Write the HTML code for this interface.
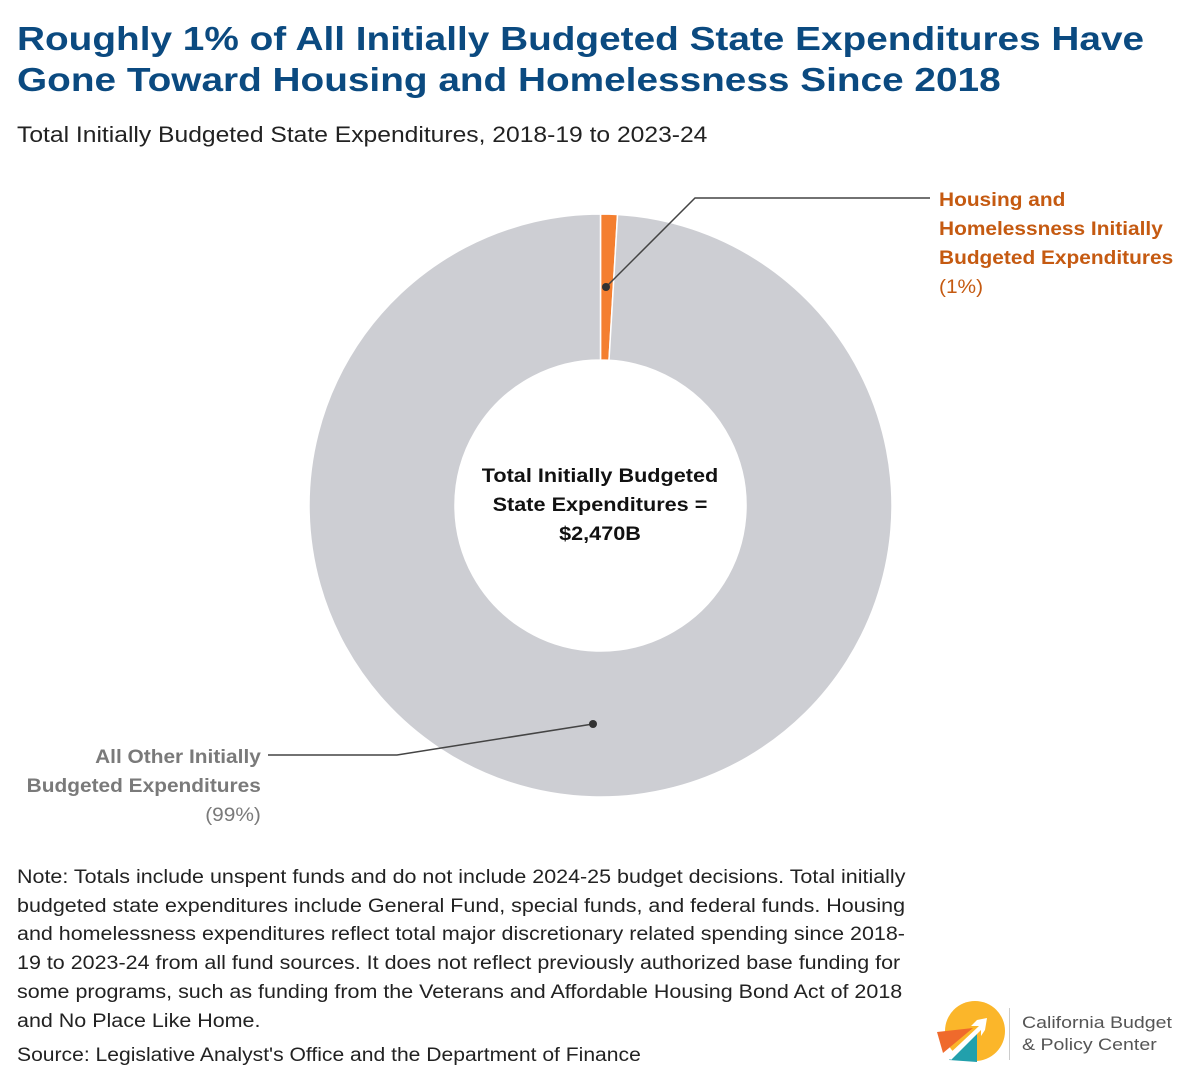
<!DOCTYPE html>
<html><head><meta charset="utf-8"><style>
body{margin:0;width:1200px;height:1088px;background:#fff;font-family:"Liberation Sans",sans-serif;overflow:hidden;position:relative}
.t{position:absolute;white-space:nowrap;transform-origin:0 0}
</style></head><body>
<div class="t" style="left:17px;top:19px;font-size:33.5px;font-weight:bold;color:#0b4a80;line-height:41px;transform:scaleX(1.157)">Roughly 1% of All Initially Budgeted State Expenditures Have<br>Gone Toward Housing and Homelessness Since 2018</div>
<div class="t" style="left:17px;top:122px;font-size:22px;color:#222;transform:scaleX(1.12)">Total Initially Budgeted State Expenditures, 2018-19 to 2023-24</div>
<svg width="1200" height="1088" style="position:absolute;left:0;top:0">
<g id="slices"></g>
<polyline points="606,287 695,198 930,198" fill="none" stroke="#444" stroke-width="1.5"/>
<circle cx="606" cy="287" r="4" fill="#333"/>
<polyline points="593,724 397,755 268,755" fill="none" stroke="#444" stroke-width="1.5"/>
<circle cx="593" cy="724" r="4" fill="#333"/>
</svg>
<div class="t" style="left:939px;top:186px;font-size:19.5px;line-height:29px;color:#c55a11;transform:scaleX(1.07)"><b>Housing and<br>Homelessness Initially<br>Budgeted Expenditures</b><br>(1%)</div>
<div class="t" style="right:939px;top:743px;font-size:19.5px;line-height:29px;color:#7a7a7a;text-align:right;transform-origin:100% 0;transform:scaleX(1.07)"><b>All Other Initially<br>Budgeted Expenditures</b><br>(99%)</div>
<div class="t" style="left:450px;width:300px;top:462px;text-align:center;font-size:19.5px;line-height:29px;font-weight:bold;color:#111;transform-origin:50% 0;transform:scaleX(1.11)">Total Initially Budgeted<br>State Expenditures =<br>$2,470B</div>
<div class="t" style="left:17px;top:864px;font-size:19px;line-height:28.7px;color:#222;transform:scaleX(1.13)">Note: Totals include unspent funds and do not include 2024-25 budget decisions. Total initially<br>budgeted state expenditures include General Fund, special funds, and federal funds. Housing<br>and homelessness expenditures reflect total major discretionary related spending since 2018-<br>19 to 2023-24 from all fund sources. It does not reflect previously authorized base funding for<br>some programs, such as funding from the Veterans and Affordable Housing Bond Act of 2018<br>and No Place Like Home.</div>
<div class="t" style="left:17px;top:1045px;font-size:19px;color:#222;transform:scaleX(1.11)">Source: Legislative Analyst's Office and the Department of Finance</div>
<svg width="80" height="70" style="position:absolute;left:935px;top:998px">
<circle cx="40" cy="33" r="30" fill="#fbb62a"/>
<path d="M2,34 L38,30 L8,55 Z" fill="#ef6a2c"/>
<path d="M14,62 L42,36 L42,64 Z" fill="#22a0ac"/>
<path d="M12,58 L44,28 L36,28 L42,22 L52,20 L50,32 L46,38 L46,32 L16,62 Z" fill="#fff"/>
</svg>
<div style="position:absolute;left:1009px;top:1008px;width:1px;height:52px;background:#ccc"></div>
<div class="t" style="left:1022px;top:1012px;font-size:17px;line-height:22px;color:#555;transform:scaleX(1.15)">California Budget<br>&amp; Policy Center</div>
<script>
const categories=["Housing and Homelessness","All Other"];
const values=[23,2447];
const colors=["#f47f30","#cdced3"];
const cx=600.5,cy=505.5,R=291.5,r=145.5;
const total=values.reduce((a,b)=>a+b,0);
const g=document.getElementById('slices');
let a0=0;
function pt(a,rad){return [cx+rad*Math.sin(a),cy-rad*Math.cos(a)];}
values.forEach((v,i)=>{
 const a1=a0+v/total*2*Math.PI;
 const large=(a1-a0)>Math.PI?1:0;
 const [x0,y0]=pt(a0,R),[x1,y1]=pt(a1,R),[x2,y2]=pt(a1,r),[x3,y3]=pt(a0,r);
 const p=document.createElementNS("http://www.w3.org/2000/svg","path");
 p.setAttribute("d",`M${x0},${y0} A${R},${R} 0 ${large} 1 ${x1},${y1} L${x2},${y2} A${r},${r} 0 ${large} 0 ${x3},${y3} Z`);
 p.setAttribute("fill",colors[i]);
 p.setAttribute("stroke","#fff");
 p.setAttribute("stroke-width","1.5");
 
 
 g.appendChild(p);
 a0=a1;
});
</script>
</body></html>
